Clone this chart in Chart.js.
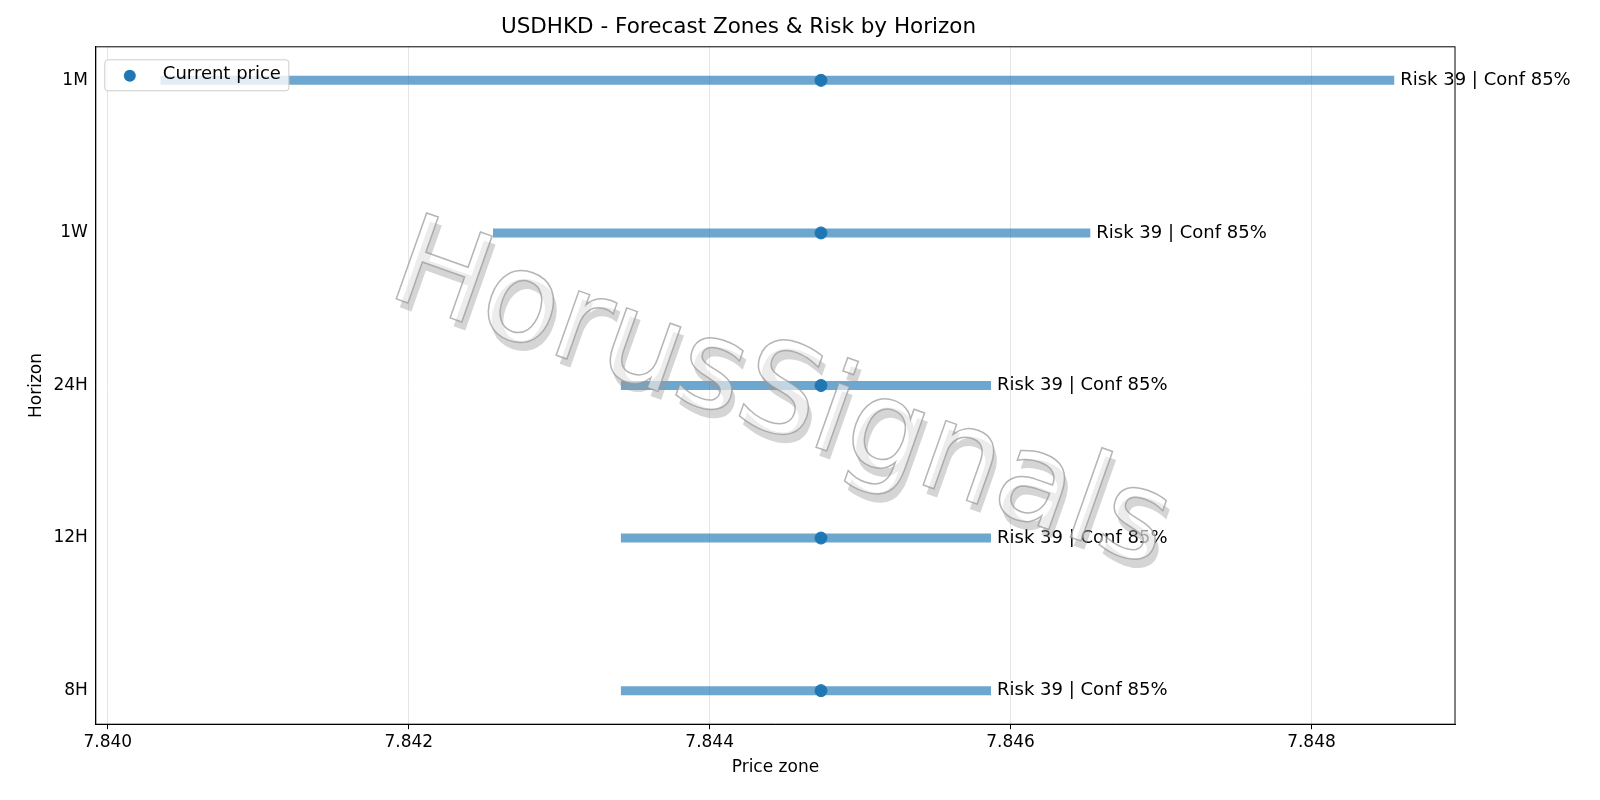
<!DOCTYPE html>
<html><head><meta charset="utf-8">
<script src="https://cdn.jsdelivr.net/npm/chart.js@4"></script>
<style>html,body{margin:0;background:#fff}#w{width:1600px;height:800px}</style>
</head><body><div id="w"><canvas id="c" width="1600" height="800"></canvas></div>
<script>
const horizons = ["1M","1W","24H","12H","8H"];
const zoneLow  = [7.84035, 7.84256, 7.84341, 7.84341, 7.84341];
const zoneHigh = [7.84855, 7.84653, 7.84587, 7.84587, 7.84587];
const current  = [7.84474, 7.84474, 7.84474, 7.84474, 7.84474];
const riskScore = [39,39,39,39,39];
const confidence = [85,85,85,85,85];
const xTicks = [7.840,7.842,7.844,7.846,7.848];

const F = 'DejaVu Sans';
const zoneSets = horizons.map((h,i)=>({
  type:'line', label:'zone'+h,
  data:[{x:zoneLow[i],y:i},{x:zoneHigh[i],y:i}],
  borderColor:'rgba(31,119,180,0.65)', borderWidth:9, borderCapStyle:'butt',
  pointRadius:0, order:2
}));
const curSet = {type:'scatter', label:'Current price',
  data:horizons.map((h,i)=>({x:current[i],y:i})),
  backgroundColor:'#1f77b4', borderColor:'#1f77b4', pointRadius:6, order:1};

const overlay = {
  id:'overlay',
  afterDatasetsDraw(ch){
    const c=ch.ctx, xs=ch.scales.x, ys=ch.scales.y, a=ch.chartArea;
    c.save();
    c.font='18px '+F; c.fillStyle='#000'; c.textBaseline='middle'; c.textAlign='left';
    horizons.forEach((h,i)=>{
      c.fillText('Risk '+riskScore[i]+' | Conf '+confidence[i]+'%', xs.getPixelForValue(zoneHigh[i])+6, ys.getPixelForValue(i));
    });
    // legend
    c.fillStyle='rgba(255,255,255,0.8)'; c.strokeStyle='#ccc'; c.lineWidth=1;
    c.beginPath(); c.roundRect(a.left+9,a.top+13,184,31,3); c.fill(); c.stroke();
    c.fillStyle='#1f77b4'; c.beginPath(); c.arc(a.left+34,a.top+29,6,0,Math.PI*2); c.fill();
    c.fillStyle='#000'; c.fillText(curSet.label,a.left+67,a.top+28);
    // watermark
    c.translate(780,400); c.rotate(0.34);
    c.font='125px '+F; c.textAlign='center'; c.textBaseline='middle';
    c.fillStyle='rgba(150,150,150,0.4)'; c.fillText('HorusSignals',6,7);
    c.fillStyle='rgba(255,255,255,0.55)'; c.fillText('HorusSignals',0,0);
    c.strokeStyle='rgba(150,150,150,0.7)'; c.lineWidth=1.5; c.strokeText('HorusSignals',0,0);
    c.restore();
  }
};
new Chart(document.getElementById('c'),{
  data:{datasets:[...zoneSets,curSet]},
  options:{responsive:false,animation:false,
    layout:{padding:{left:22,right:145,top:0,bottom:18}},
    plugins:{
      title:{display:true,text:'USDHKD - Forecast Zones & Risk by Horizon',font:{family:F,size:21.5,weight:'normal'},color:'#000',padding:{top:15,bottom:6}},
      legend:{display:false},
      tooltip:{enabled:false}
    },
    scales:{
      x:{type:'linear',min:7.83992,max:7.848954,
        afterBuildTicks:s=>{s.ticks=xTicks.map(v=>({value:v}));},
        ticks:{callback:v=>v.toFixed(3),font:{family:F,size:17},color:'#000',maxRotation:0},
        grid:{color:'#e5e5e5',drawTicks:true,tickColor:'#000',tickLength:5},
        border:{color:'#000'},
        title:{display:true,text:'Price zone',font:{family:F,size:17},color:'#000',padding:{top:2}}},
      y:{type:'linear',reverse:true,min:-0.22,max:4.22,
        afterBuildTicks:s=>{s.ticks=horizons.map((h,i)=>({value:i}));},
        ticks:{callback:v=>horizons[v],font:{family:F,size:17},color:'#000'},
        grid:{display:false,drawTicks:true,tickColor:'#000',tickLength:5},
        border:{color:'#000'},
        title:{display:true,text:'Horizon',font:{family:F,size:17},color:'#000'}}
    }
  },
  plugins:[overlay,{id:'frame',afterDraw(ch){const a=ch.chartArea,c=ch.ctx;c.save();c.strokeStyle='#000';c.lineWidth=1;c.strokeRect(a.left,a.top,a.right-a.left,a.bottom-a.top);c.restore();}}]
});
</script></body></html>
